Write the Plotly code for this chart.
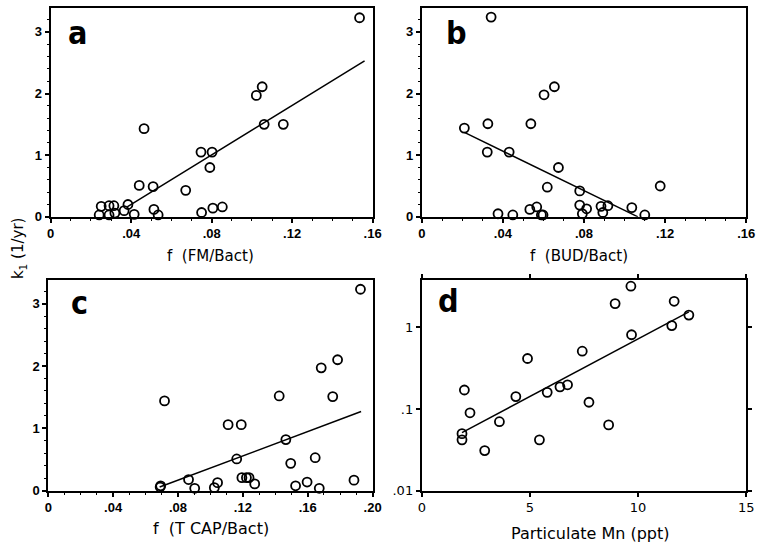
import plotly.graph_objects as go

W, H = 765, 552

# ---- data ----
a_x = [0.1535, 0.1051, 0.1022, 0.1061, 0.1156, 0.0464, 0.0747, 0.0802, 0.0791, 0.0440, 0.0509, 0.0671, 0.0513,
       0.0534, 0.0750, 0.0806, 0.0853, 0.0384, 0.0365, 0.0415, 0.0251, 0.0241, 0.0290, 0.0314, 0.0290, 0.0319]
a_y = [3.23, 2.11, 1.97, 1.50, 1.50, 1.43, 1.05, 1.05, 0.80, 0.51, 0.49, 0.43, 0.12,
       0.03, 0.07, 0.14, 0.16, 0.20, 0.10, 0.04, 0.17, 0.03, 0.18, 0.18, 0.03, 0.06]
a_fit_x = [0.038, 0.156]
a_fit_y = [0.16, 2.53]

b_x = [0.0342, 0.0210, 0.0326, 0.0323, 0.0431, 0.0538, 0.0603, 0.0654, 0.0674, 0.0619, 0.0779, 0.1176, 0.0376,
       0.0449, 0.0533, 0.0567, 0.0590, 0.0598, 0.0779, 0.0813, 0.0792, 0.0884, 0.0918, 0.0893, 0.1036, 0.1100]
b_y = [3.24, 1.44, 1.51, 1.05, 1.05, 1.51, 1.98, 2.11, 0.80, 0.48, 0.42, 0.50, 0.05,
       0.03, 0.12, 0.16, 0.03, 0.03, 0.19, 0.13, 0.05, 0.17, 0.18, 0.07, 0.15, 0.03]
b_fit_x = [0.021, 0.1066]
b_fit_y = [1.37, 0.0]

c_x = [0.1925, 0.1784, 0.1683, 0.1754, 0.1424, 0.0717, 0.1109, 0.1190, 0.1465, 0.1162, 0.1495, 0.1646, 0.0865,
       0.0903, 0.0693, 0.0690, 0.1044, 0.1024, 0.1194, 0.1222, 0.1238, 0.1273, 0.1525, 0.1596, 0.1671, 0.1885]
c_y = [3.23, 2.10, 1.97, 1.51, 1.52, 1.44, 1.06, 1.06, 0.82, 0.51, 0.44, 0.53, 0.18,
       0.04, 0.08, 0.06, 0.13, 0.05, 0.21, 0.21, 0.21, 0.11, 0.08, 0.14, 0.04, 0.17]
c_fit_x = [0.0687, 0.1929]
c_fit_y = [0.06, 1.27]

d_x = [9.67, 8.94, 11.67, 12.35, 11.56, 9.70, 7.42, 4.89, 1.97, 2.23, 1.86,
       1.86, 2.91, 3.59, 4.35, 5.80, 6.39, 6.74, 5.44, 7.73, 8.64]
d_y = [3.18, 1.95, 2.08, 1.41, 1.05, 0.81, 0.51, 0.415, 0.171, 0.090, 0.050,
       0.042, 0.031, 0.070, 0.142, 0.160, 0.187, 0.198, 0.042, 0.121, 0.064]
d_fit_x = [1.86, 12.35]
d_fit_y = [0.0514, 1.545]

f_ticks_16 = [0, 0.04, 0.08, 0.12, 0.16]
f_ticktext_16 = ["0", ".04", ".08", ".12", ".16"]
f_ticks_20 = [0, 0.04, 0.08, 0.12, 0.16, 0.20]
f_ticktext_20 = ["0", ".04", ".08", ".12", ".16", ".20"]
k_ticks = [0, 1, 2, 3]
k_ticktext = ["0", "1", "2", "3"]
mn_ticks = [0, 5, 10, 15]
mn_ticktext = ["0", "5", "10", "15"]
logk_ticks = [1, 0.1, 0.01]
logk_ticktext = ["1", ".1", ".01"]

panel_letters = ["a", "b", "c", "d"]
x_titles = ["f  (FM/Bact)", "f  (BUD/Bact)", "f  (T CAP/Bact)", "Particulate Mn (ppt)"]
y_title = "k<sub>1</sub> (1/yr)"

# ---- layout geometry (pixels) ----
def xd(l, r):
    return [l / W, r / W]

def yd(top, bottom):
    return [1 - bottom / H, 1 - top / H]

fig = go.Figure()

marker = dict(symbol="circle-open", size=9, color="black", line=dict(width=1.8, color="black"))
fit_line = dict(color="black", width=1.5)

panels = [
    (a_x, a_y, a_fit_x, a_fit_y, "x", "y"),
    (b_x, b_y, b_fit_x, b_fit_y, "x2", "y2"),
    (c_x, c_y, c_fit_x, c_fit_y, "x3", "y3"),
    (d_x, d_y, d_fit_x, d_fit_y, "x4", "y4"),
]
for px, py, fx, fy, xa, ya in panels:
    fig.add_trace(go.Scatter(x=px, y=py, mode="markers", marker=marker, xaxis=xa, yaxis=ya,
                             cliponaxis=False, showlegend=False))
    fig.add_trace(go.Scatter(x=fx, y=fy, mode="lines", line=fit_line, xaxis=xa, yaxis=ya,
                             showlegend=False))

tick_font = dict(family="Liberation Sans, Arial, sans-serif", size=13, color="black", weight="bold")
tick_font_d = dict(family="DejaVu Sans, sans-serif", size=13, color="black")

def axis_common(**kw):
    base = dict(showline=True, linewidth=2, linecolor="black", mirror=True, ticks="outside",
                ticklen=4, tickwidth=1.5, tickcolor="black", showgrid=False, zeroline=False,
                tickfont=tick_font)
    base.update(kw)
    return base

minor_x = dict(ticks="outside", ticklen=2, tickwidth=1, tickcolor="black", dtick=0.01, showgrid=False)
minor_y = dict(ticks="outside", ticklen=2, tickwidth=1, tickcolor="black", dtick=0.2, showgrid=False)

top_y = (8, 220)
bot_y = (284, 498)

fig.update_layout(
    width=W, height=H,
    margin=dict(l=0, r=0, t=0, b=0),
    paper_bgcolor="white", plot_bgcolor="white",
    xaxis=axis_common(domain=xd(47.5, 375), range=[0, 0.16], tickvals=f_ticks_16, ticktext=f_ticktext_16,
                      anchor="y", minor=minor_x),
    yaxis=axis_common(domain=yd(*top_y), range=[0, 3.39], tickvals=k_ticks, ticktext=k_ticktext,
                      anchor="x", minor=minor_y),
    xaxis2=axis_common(domain=xd(425, 755), range=[0, 0.16], tickvals=f_ticks_16, ticktext=f_ticktext_16,
                       anchor="y2", minor=minor_x),
    yaxis2=axis_common(domain=yd(*top_y), range=[0, 3.39], tickvals=k_ticks, ticktext=k_ticktext,
                       anchor="x2", minor=minor_y),
    xaxis3=axis_common(domain=xd(45, 375), range=[0, 0.20], tickvals=f_ticks_20, ticktext=f_ticktext_20,
                       anchor="y3", minor=minor_x),
    yaxis3=axis_common(domain=yd(*bot_y), range=[0, 3.38], tickvals=k_ticks, ticktext=k_ticktext,
                       anchor="x3", minor=minor_y),
    xaxis4=axis_common(domain=xd(425, 755), range=[0, 15], tickvals=mn_ticks, ticktext=mn_ticktext,
                       anchor="y4", mirror="allticks", tickfont=tick_font_d),
    yaxis4=axis_common(domain=yd(*bot_y), type="log", range=[-2, 0.58], tickvals=logk_ticks,
                       ticktext=logk_ticktext, anchor="x4", mirror="allticks", tickfont=tick_font_d),
)

title_font = dict(family="DejaVu Sans, sans-serif", size=15, color="black")
letter_font = dict(family="Liberation Sans Narrow, DejaVu Sans Condensed, Liberation Sans, sans-serif",
                   size=32, color="black", weight="bold")

ann = []
# panel letters (pixel centres)
for letter, (lx, ly) in zip(panel_letters, [(75, 33), (460, 33), (77, 307), (452, 305)]):
    ann.append(dict(text="<b>%s</b>" % letter, x=lx / W, y=1 - ly / H, xref="paper", yref="paper",
                    showarrow=False, font=letter_font, xanchor="center", yanchor="middle"))
# x titles
for t, (tx, ty, fs) in zip(x_titles, [(210, 260, 15), (585, 260, 15), (211, 536, 16), (597, 541, 16)]):
    f = dict(title_font)
    f["size"] = fs
    ann.append(dict(text=t, x=tx / W, y=1 - ty / H, xref="paper", yref="paper", showarrow=False,
                    font=f, xanchor="center", yanchor="middle"))
# shared y title
ann.append(dict(text=y_title, x=15 / W, y=1 - 252 / H, xref="paper", yref="paper", showarrow=False,
                textangle=-90, font=dict(family="DejaVu Sans, sans-serif", size=15, color="black"),
                xanchor="center", yanchor="middle"))
fig.update_layout(annotations=ann)

fig.write_html("out.html")
